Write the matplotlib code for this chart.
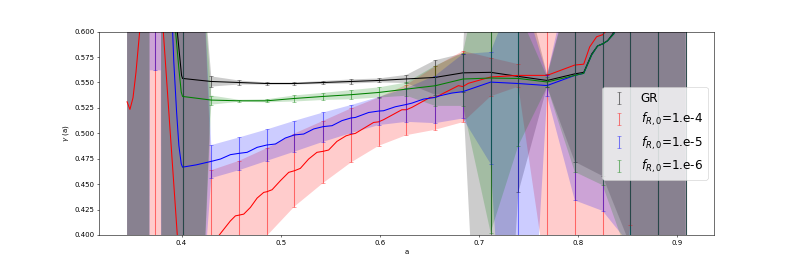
import numpy as np
import matplotlib
matplotlib.use('Agg')
import matplotlib.pyplot as plt

# scale factor nodes where the growth index was measured
a_nodes = [0.345, 0.373, 0.401, 0.430, 0.458, 0.486, 0.514, 0.543, 0.571, 0.599, 0.627,
           0.656, 0.684, 0.712, 0.740, 0.769, 0.797, 0.825, 0.853, 0.881, 0.909]

# node means and band limits (lower / upper) per model
gr_mean = [0.90, 0.90, 0.554, 0.551, 0.550, 0.549, 0.549, 0.550, 0.551, 0.552, 0.5535,
           0.555, 0.5595, 0.560, 0.556, 0.552, 0.5585, 0.588, 0.65, 0.75, 0.85]
gr_lo = [-1, 0.90, -1, 0.546, 0.548, 0.548, 0.548, 0.5485, 0.549, 0.550, 0.5495,
         0.538, 0.5405, 0.0, 0.442, 0.546, 0.472, 0.458, 0.39, -1, -1]
gr_hi = [2, 0.90, 2, 0.556, 0.552, 0.550, 0.550, 0.5515, 0.553, 0.554, 0.5575,
         0.572, 0.5785, 1.1, 0.67, 0.558, 0.66, 0.72, 2, 2, 2]

f4_mean = [0.531, 0.85, 0.36, 0.39, 0.4195, 0.4425, 0.4632, 0.4823, 0.4990, 0.5113, 0.5232,
           0.5353, 0.546, 0.5554, 0.557, 0.557, 0.5672, 0.597, 0.66, 0.75, 0.85]
f4_lo = [-1, -1, -1, 0.318, 0.366, 0.399, 0.428, 0.4512, 0.4713, 0.4877, 0.4982,
         0.5035, 0.511, 0.5364, 0.546, 0.3535, 0.2, 0.2, 0.41, -1, -1]
f4_hi = [2, 2, 2, 0.4637, 0.4729, 0.4854, 0.4998, 0.5123, 0.5245, 0.5353, 0.5478,
         0.5658, 0.581, 0.5744, 0.568, 1.5, 1.0, 1.0, 1.2, 2, 2]

f5_mean = [1.0, 1.2, 0.4667, 0.4724, 0.4803, 0.4885, 0.4984, 0.5066, 0.5151, 0.5219, 0.5284,
           0.5353, 0.541, 0.5504, 0.549, 0.547, 0.557, 0.588, 0.65, 0.75, 0.85]
f5_lo = [-1, 0.562, -1, 0.4559, 0.4637, 0.4729, 0.482, 0.4917, 0.5002, 0.5081, 0.5113,
         0.510, 0.5146, 0.47, 0.05, 0.537, 0.434, 0.4237, 0.39, -1, -1]
f5_hi = [2, 2, 2, 0.4884, 0.4959, 0.5038, 0.5123, 0.5205, 0.5278, 0.5357, 0.5445,
         0.5567, 0.578, 0.58, 0.65, 0.557, 0.68, 0.75, 2, 2, 2]

f6_mean = [0.90, 0.90, 0.5363, 0.5327, 0.532, 0.532, 0.5343, 0.5363, 0.538, 0.5402, 0.5435,
           0.5468, 0.5534, 0.5544, 0.554, 0.5505, 0.557, 0.588, 0.65, 0.75, 0.85]
f6_lo = [-1, 0.90, -1, 0.5282, 0.531, 0.5305, 0.5313, 0.5328, 0.5335, 0.5352, 0.537,
         0.527, 0.527, 0.4024, 0.488, 0.5455, 0.462, 0.449, 0.373, -1, -1]
f6_hi = [2, 0.90, 2, 0.5372, 0.533, 0.5335, 0.5373, 0.5398, 0.5425, 0.5452, 0.550,
         0.5665, 0.579, 0.706, 0.62, 0.5555, 0.66, 0.73, 2, 2, 2]

# extra band points in the noisy low-a region
a_band_extra = [0.366, 0.368, 0.379, 0.381, 0.422]
gr_lo_extra = [-1, 0.90, 0.90, -1, 0.35]
gr_hi_extra = [2, 0.90, 0.90, 2, 0.65]
f4_lo_extra = [-1, -1, -1, -1, 0.30]
f4_hi_extra = [2, 2, 2, 2, 0.65]
f5_lo_extra = [-1, 0.562, 0.562, -1, 0.35]
f5_hi_extra = [2, 2, 2, 2, 0.65]
f6_lo_extra = [-1, 0.90, 0.90, -1, 0.35]
f6_hi_extra = [2, 0.90, 0.90, 2, 0.65]

# extra points on the curves (between nodes)
gr_line_x = [0.3957, 0.3984, 0.400, 0.806, 0.814, 0.820, 0.830, 0.8355]
gr_line_y = [0.600, 0.573, 0.557, 0.560, 0.578, 0.586, 0.591, 0.598]
f4_line_x = [0.3479, 0.351, 0.354, 0.3577, 0.3816, 0.3957,
             0.4493, 0.4544, 0.4628, 0.4695, 0.4763, 0.4830, 0.4914, 0.4998, 0.5082,
             0.5199, 0.5283, 0.5367, 0.5485, 0.5569, 0.5660, 0.5754, 0.5939, 0.6039,
             0.6224, 0.6325, 0.6510, 0.6610, 0.6795, 0.6895,
             0.806, 0.812, 0.819, 0.829]
f4_line_y = [0.5235, 0.535, 0.560, 0.600, 0.600, 0.400,
             0.4138, 0.4188, 0.4205, 0.4271, 0.4363, 0.4419, 0.4445, 0.4534, 0.4616,
             0.4655, 0.4747, 0.4813, 0.4836, 0.4921, 0.4975, 0.4999, 0.5107, 0.5134,
             0.5232, 0.5255, 0.5354, 0.5377, 0.5469, 0.5492,
             0.568, 0.585, 0.595, 0.601]
f5_line_x = [0.391, 0.3922, 0.395, 0.3973, 0.3997, 0.415,
             0.4393, 0.4493, 0.4662, 0.4763, 0.4948, 0.5048, 0.5233, 0.5334, 0.5519,
             0.5620, 0.5754, 0.5889, 0.6039, 0.6157, 0.6325, 0.6443, 0.6610, 0.6728,
             0.806, 0.814, 0.820, 0.830, 0.8365]
f5_line_y = [0.600, 0.570, 0.521, 0.488, 0.470, 0.469,
             0.4747, 0.4790, 0.4813, 0.4862, 0.4895, 0.4954, 0.4993, 0.5043, 0.5075,
             0.5125, 0.5156, 0.5205, 0.5222, 0.5261, 0.5297, 0.5337, 0.5370, 0.5396,
             0.559, 0.577, 0.586, 0.591, 0.598]
f6_line_x = [0.394, 0.3973, 0.3997, 0.806, 0.814, 0.820, 0.830, 0.8365]
f6_line_y = [0.600, 0.5636, 0.5406, 0.559, 0.577, 0.586, 0.591, 0.598]

labels = ['GR', r'$f_{R,0}$=1.e-4', r'$f_{R,0}$=1.e-5', r'$f_{R,0}$=1.e-6']
colors = ['k', 'r', 'b', 'g']


def merge(x1, y1, x2, y2):
    x = np.concatenate([x1, x2])
    y = np.concatenate([y1, y2])
    idx = np.argsort(x)
    return x[idx], y[idx]


series = [
    (gr_mean, gr_lo, gr_hi, gr_lo_extra, gr_hi_extra, gr_line_x, gr_line_y),
    (f4_mean, f4_lo, f4_hi, f4_lo_extra, f4_hi_extra, f4_line_x, f4_line_y),
    (f5_mean, f5_lo, f5_hi, f5_lo_extra, f5_hi_extra, f5_line_x, f5_line_y),
    (f6_mean, f6_lo, f6_hi, f6_lo_extra, f6_hi_extra, f6_line_x, f6_line_y),
]

fig = plt.figure(figsize=(793 / 50, 264 / 50), dpi=50)
ax = fig.add_subplot(111)

a = np.array(a_nodes)
for (mean, lo, hi, lo_x, hi_x, lx, ly), lab, c in zip(series, labels, colors):
    mean, lo, hi = np.array(mean), np.array(lo), np.array(hi)
    bx, blo = merge(a, lo, a_band_extra, lo_x)
    _, bhi = merge(a, hi, a_band_extra, hi_x)
    ax.fill_between(bx, blo, bhi, color=c, alpha=0.2, linewidth=0)
    cx, cy = merge(a, mean, lx, ly)
    ax.plot(cx, cy, color=c, linewidth=1.5)
    # first node has no error estimate
    yerr = [mean[1:] - lo[1:], hi[1:] - mean[1:]]
    ax.errorbar(a[1:], mean[1:], yerr=yerr, fmt='none', ecolor=c, alpha=0.5,
                capsize=3, label=lab)

ax.set_ylim(0.4, 0.6)
ax.set_xlabel('a')
ax.set_ylabel(r'$\gamma$ (a)')
ax.legend(loc='center right', fontsize='xx-large')

fig.savefig('out.png', dpi=50)
